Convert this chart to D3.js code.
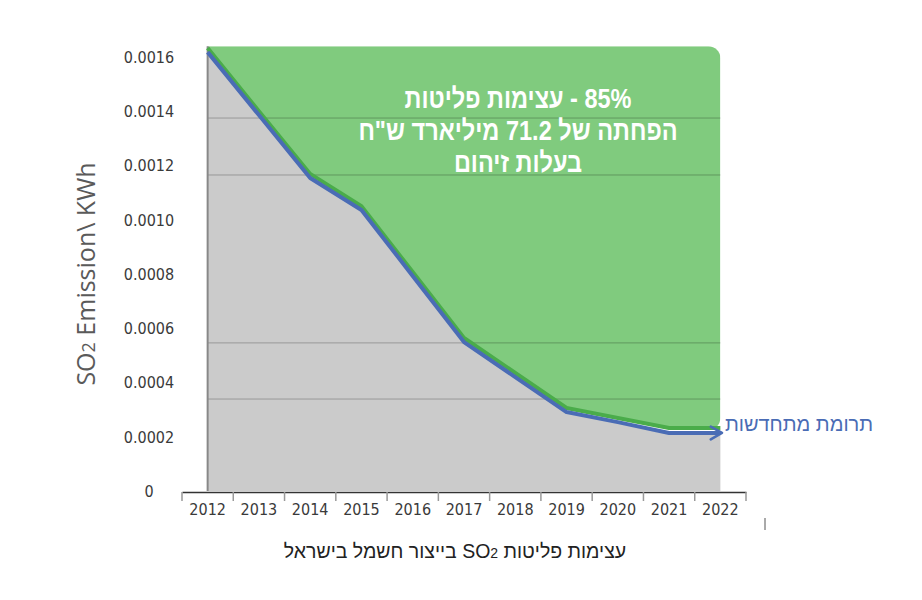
<!DOCTYPE html>
<html>
<head>
<meta charset="utf-8">
<script src="https://cdn.jsdelivr.net/npm/d3@7"></script>
<style>
  body { margin: 0; background: #fff; }
  .tick-lbl { font-family: "Liberation Sans Narrow", "DejaVu Sans Condensed", "Roboto", sans-serif; fill: #3a3a3a; }
</style>
</head>
<body>
<svg id="chart"></svg>
<script>
// chart data
const years = ["2012", "2013", "2014", "2015", "2016", "2017", "2018", "2019", "2020", "2021", "2022"];
const so2Values = [0.001618, 0.001386, 0.001154, 0.001036, 0.000793, 0.000549, 0.00042, 0.000291, 0.000254, 0.000214, 0.000214];
const greenValues = [0.001633, 0.0014, 0.001169, 0.00105, 0.000807, 0.000564, 0.000435, 0.000306, 0.000269, 0.000232, 0.000232];
const yTickValues = [0, 0.0002, 0.0004, 0.0006, 0.0008, 0.001, 0.0012, 0.0014, 0.0016];
const yTickLabels = ["0", "0.0002", "0.0004", "0.0006", "0.0008", "0.0010", "0.0012", "0.0014", "0.0016"];
const gridValues = [0.000339, 0.000546, 0.001165, 0.001375];
const topValue = 0.00164;

const annotationLines = ["85% - עצימות פליטות", "הפחתה של 71.2 מיליארד ש\"ח", "בעלות זיהום"];
const renewLabel = "תרומת מתחדשות";
const xTitle = ["עצימות פליטות ", "SO", "2", " בייצור חשמל בישראל"];

const width = 922;
const height = 600;

const svg = d3.select("#chart").attr("width", width).attr("height", height);

// Scales
const xband = d3.scaleBand().domain(years).range([182, 746]).padding(0);
const xpos = (d) => xband(d) + xband.bandwidth() / 2;
const yscale = d3.scaleLinear().domain([0, 0.0016]).range([491, 57]);

const rows = years.map((y, i) => ({ year: y, so2: so2Values[i], green: greenValues[i] }));
const xLeft = xpos(years[0]);
const xRight = xpos(years[years.length - 1]);

// gray area under the emission line
const grayArea = d3.area()
  .x((d) => xpos(d.year))
  .y0(yscale(0))
  .y1((d) => yscale(d.so2));
svg.append("path").datum(rows).attr("d", grayArea).attr("fill", "#cbcbcb");

// green area above, clipped with rounded right corners
svg.append("clipPath").attr("id", "greenClip")
  .append("rect")
  .attr("x", xLeft - 40)
  .attr("y", yscale(topValue))
  .attr("width", xRight - xLeft + 40)
  .attr("height", yscale(greenValues[greenValues.length - 1]) - yscale(topValue) + 2)
  .attr("rx", 12);

const greenArea = d3.area()
  .x((d) => xpos(d.year))
  .y0(yscale(topValue))
  .y1((d) => yscale(d.green));
svg.append("path").datum(rows)
  .attr("d", greenArea)
  .attr("fill", "#80cb7e")
  .attr("clip-path", "url(#greenClip)");

// gridlines (drawn on top, semi transparent)
svg.append("g")
  .selectAll("line")
  .data(gridValues)
  .join("line")
  .attr("x1", xLeft)
  .attr("x2", xRight)
  .attr("y1", (d) => yscale(d))
  .attr("y2", (d) => yscale(d))
  .attr("stroke", "rgba(0,0,0,0.25)")
  .attr("stroke-width", 1);

// y axis line
svg.append("line")
  .attr("x1", xLeft).attr("x2", xLeft)
  .attr("y1", yscale(topValue)).attr("y2", yscale(0))
  .attr("stroke", "#888").attr("stroke-width", 2);

// green edge line
const greenLine = d3.line().x((d) => xpos(d.year)).y((d) => yscale(d.green));
svg.append("path").datum(rows)
  .attr("d", greenLine)
  .attr("fill", "none")
  .attr("stroke", "#4aac4a")
  .attr("stroke-width", 4)
  .attr("stroke-linejoin", "round");

// arrow marker
svg.append("defs").append("marker")
  .attr("id", "arrow")
  .attr("viewBox", "0 0 10 10")
  .attr("refX", 7).attr("refY", 5)
  .attr("markerWidth", 4).attr("markerHeight", 4)
  .attr("markerUnits", "strokeWidth")
  .attr("orient", "auto")
  .append("path")
  .attr("d", "M1,1 L8,5 L1,9")
  .attr("fill", "none")
  .attr("stroke", "#4a6cb5")
  .attr("stroke-width", 1.6)
  .attr("stroke-linecap", "round")
  .attr("stroke-linejoin", "round");

// emission line
const so2Line = d3.line().x((d) => xpos(d.year)).y((d) => yscale(d.so2));
svg.append("path").datum(rows)
  .attr("d", so2Line)
  .attr("fill", "none")
  .attr("stroke", "#4a6cb5")
  .attr("stroke-width", 4)
  .attr("stroke-linejoin", "round")
  .attr("marker-end", "url(#arrow)");

// x axis
const xaxis = d3.axisBottom(xband).tickSize(0).tickPadding(12);
const g_xaxis = svg.append("g")
  .attr("transform", `translate(0,${yscale(0) + 1})`)
  .call(xaxis);
g_xaxis.select(".domain").attr("stroke", "#333").attr("stroke-width", 1.5);
g_xaxis.selectAll("text").attr("class", "tick-lbl").attr("font-size", 16);
// tick marks at band edges
g_xaxis.append("g")
  .selectAll("line")
  .data(years.concat(["end"]))
  .join("line")
  .attr("x1", (d, i) => xband.range()[0] + i * xband.step())
  .attr("x2", (d, i) => xband.range()[0] + i * xband.step())
  .attr("y1", 0).attr("y2", 9)
  .attr("stroke", "#999").attr("stroke-width", 1.5);

// y tick labels
svg.append("g")
  .selectAll("text")
  .data(yTickValues)
  .join("text")
  .attr("class", "tick-lbl")
  .attr("x", 149)
  .attr("y", (d) => yscale(d))
  .attr("dy", "0.36em")
  .attr("text-anchor", "middle")
  .attr("font-size", 16)
  .text((d, i) => yTickLabels[i]);

// y axis title
const yTitle = svg.append("text")
  .attr("transform", "translate(95,274) rotate(-90)")
  .attr("text-anchor", "middle")
  .attr("font-family", "Open Sans, sans-serif")
  .attr("font-size", 25)
  .attr("fill", "#5a5a5a");
yTitle.append("tspan").text("SO");
yTitle.append("tspan").attr("font-size", 18).text("2");
yTitle.append("tspan").text(" Emission\\ KWh");

// annotation inside green area (condensed bold)
svg.append("g")
  .attr("transform", "translate(518,0) scale(0.84,1)")
  .selectAll("text")
  .data(annotationLines)
  .join("text")
  .attr("x", 0)
  .attr("y", (d, i) => 108 + i * 32)
  .attr("direction", "rtl")
  .attr("text-anchor", "middle")
  .attr("font-family", "Liberation Sans, sans-serif")
  .attr("font-weight", "bold")
  .attr("font-size", 28)
  .attr("fill", "#fff")
  .text((d) => d);

// renewables label
svg.append("text")
  .attr("x", 799)
  .attr("y", 431)
  .attr("direction", "rtl")
  .attr("text-anchor", "middle")
  .attr("font-family", "Liberation Sans, sans-serif")
  .attr("font-size", 20)
  .attr("fill", "#4a6cb5")
  .text(renewLabel);

// x axis title
const xt = svg.append("text")
  .attr("x", 455)
  .attr("y", 558)
  .attr("direction", "rtl")
  .attr("text-anchor", "middle")
  .attr("font-family", "Liberation Sans, sans-serif")
  .attr("font-size", 19.5)
  .attr("fill", "#222");
xt.append("tspan").text(xTitle[0]);
xt.append("tspan").text(xTitle[1]);
xt.append("tspan").attr("font-size", 14).text(xTitle[2]);
xt.append("tspan").text(xTitle[3]);

// small stray mark under the axis end
svg.append("line")
  .attr("x1", 765).attr("x2", 765)
  .attr("y1", 518).attr("y2", 530)
  .attr("stroke", "#555").attr("stroke-width", 1);
</script>
</body>
</html>
